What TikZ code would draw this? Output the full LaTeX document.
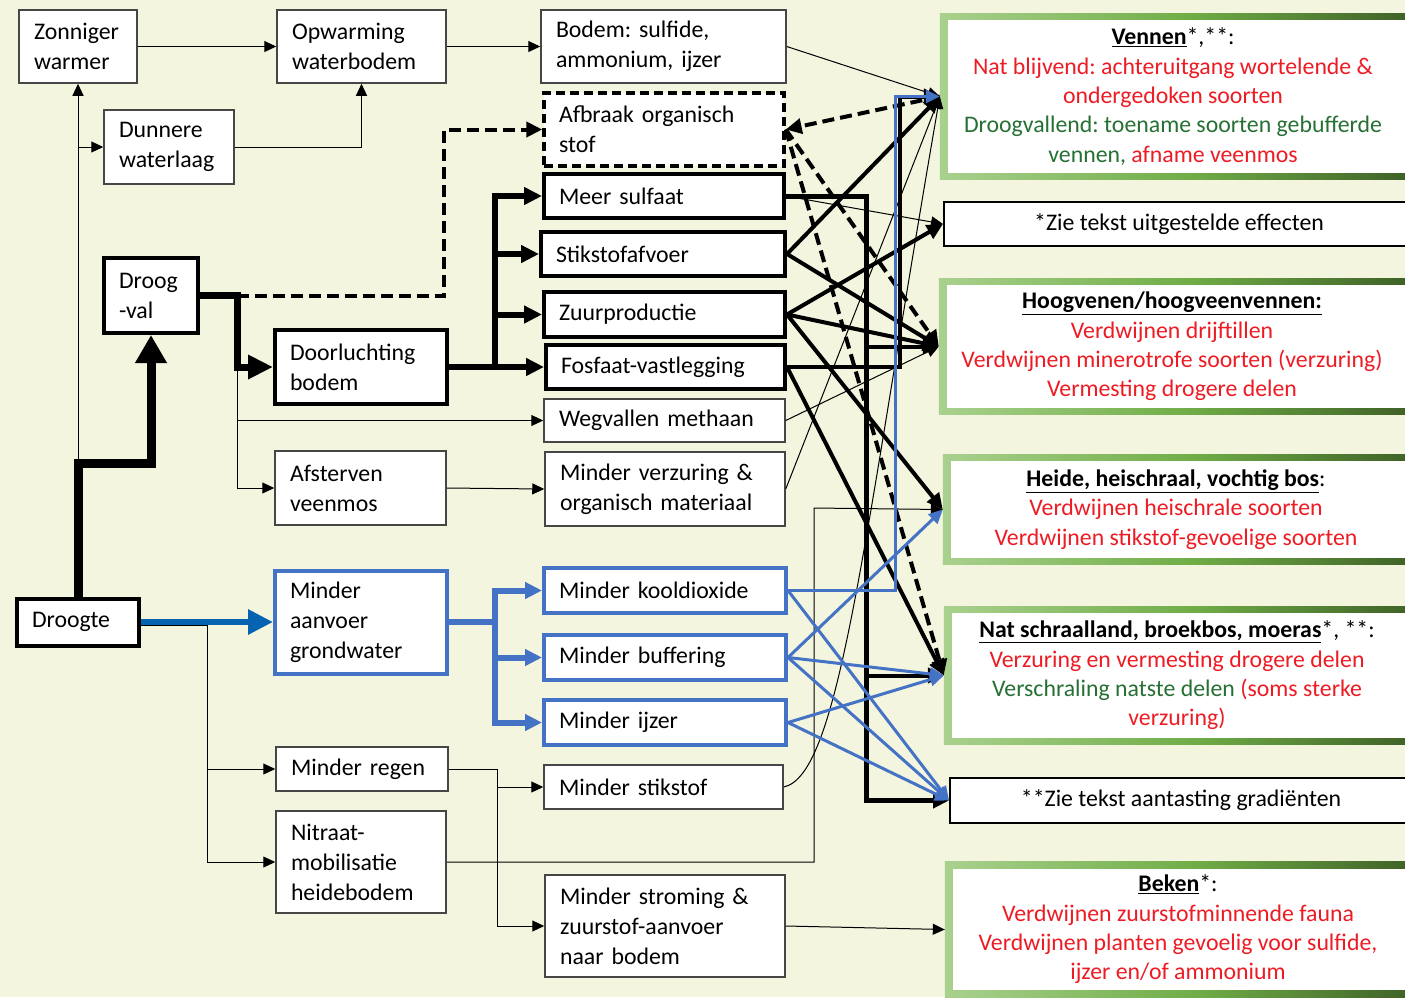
\documentclass[tikz,border=0pt]{standalone}
\usepackage{fontspec}
\setmainfont{Carlito}
\usetikzlibrary{arrows.meta,backgrounds}
\definecolor{bgcream}{RGB}{243,245,223}
\definecolor{boxgray}{RGB}{70,70,70}
\definecolor{offblue}{RGB}{68,114,196}
\definecolor{arrblue}{RGB}{5,99,177}
\definecolor{txtred}{RGB}{237,28,36}
\definecolor{txtgreen}{RGB}{38,112,52}
\definecolor{grlight}{RGB}{169,209,142}
\definecolor{grmid}{RGB}{112,173,71}
\definecolor{grdark}{RGB}{56,87,35}
\frenchspacing

\begin{document}
\begin{tikzpicture}[x = 1pt, y = -1pt,
	procbox/.style 2 args = {draw = boxgray, line width = 1.5pt, fill = white, inner sep = 0pt, align = left,
		minimum width = #1pt, minimum height = #2pt, text width = #1pt-30pt},
	boldbox/.style = {draw = black, line width = 4pt},
	bluebox/.style = {draw = offblue, line width = 4pt},
	dashbox/.style = {draw = black, line width = 3.5pt, dash pattern = on 9pt off 5pt},
	habitat/.style = {inner sep = 0pt, align = center, minimum width = 450pt, font = \fontsize{23.8}{29.3}\selectfont},
	notebox/.style = {draw = black, line width = 2pt, fill = white, minimum width = 470pt, minimum height = 44pt},
	thinarr/.style = {draw = black, line width = 1pt, -{Triangle[length = 12pt, width = 11pt]}},
	thickarr/.style = {draw = black, line width = 4pt, -{Triangle[length = 16pt, width = 15pt]}},
	dasharr/.style = {thickarr, dash pattern = on 12pt off 6pt},
	medarr/.style = {draw = black, line width = 6pt, -{Triangle[length = 18pt, width = 17pt]}},
	bigarr/.style = {draw = black, line width = 7pt, -{Triangle[length = 25pt, width = 23pt]}},
	hugearr/.style = {draw = black, line width = 9pt, -{Triangle[length = 28pt, width = 30pt]}},
	bluearr/.style = {draw = offblue, line width = 3pt, -{Triangle[length = 14pt, width = 13pt]}},
	bluemed/.style = {draw = offblue, line width = 6pt, -{Triangle[length = 17pt, width = 16pt]}},
	bluebig/.style = {draw = arrblue, line width = 6pt, -{Triangle[length = 25pt, width = 24pt]}}]
	\tikzstyle{every node} = [font = \fontsize{23.8}{30}\selectfont]
	\useasboundingbox (0,0) rectangle (1405,997);
	\begin{scope}[on background layer]
		\fill[bgcream] (0,0) rectangle (1405,997);
	\end{scope}

	% oorzaken en processen
	\node[procbox = {118}{73}] (zon) at (78,46.5) {Zonniger\\warmer};
	\node[procbox = {169}{73}] (opw) at (361.5,46.5) {Opwarming\\waterbodem};
	\node[procbox = {245}{73}] (bodem) at (663.5,46.5) {Bodem: sulfide,\\ammonium, ijzer};
	\node[procbox = {130}{74}] (dun) at (169,147) {Dunnere\\waterlaag};
	\node[procbox = {240}{73}, dashbox] (afbraak) at (664,129.5) {Afbraak organisch\\stof};
	\node[procbox = {240}{44}, boldbox] (sulfaat) at (664,196) {Meer sulfaat};
	\node[procbox = {244}{44}, boldbox] (stikaf) at (663,254) {Stikstofafvoer};
	\node[procbox = {241}{45}, boldbox] (zuur) at (664.5,314.5) {Zuurproductie};
	\node[procbox = {239}{44}, boldbox] (fosfaat) at (665.5,367) {Fosfaat-vastlegging};
	\node[procbox = {241}{43}] (methaan) at (664.5,420.5) {Wegvallen methaan};
	\node[procbox = {240}{74}] (verz) at (665,489) {Minder verzuring \&\\organisch materiaal};
	\node[procbox = {94}{75}, boldbox] (droogval) at (151,295.5) {Droog\\-val};
	\node[procbox = {172}{74}, boldbox] (doorl) at (361,367) {Doorluchting\\bodem};
	\node[procbox = {171}{74}] (afst) at (360.5,488) {Afsterven\\veenmos};
	\node[procbox = {122}{47}, boldbox] (droogte) at (78,622) {Droogte};
	\node[procbox = {172}{103}, bluebox] (aanvoer) at (361,622) {Minder\\aanvoer\\grondwater};
	\node[procbox = {242}{45}, bluebox] (kool) at (665,590.5) {Minder kooldioxide};
	\node[procbox = {242}{45}, bluebox] (buff) at (665,657.5) {Minder buffering};
	\node[procbox = {242}{45}, bluebox] (ijzer) at (665,722.5) {Minder ijzer};
	\node[procbox = {172}{44}] (regen) at (362,769) {Minder regen};
	\node[procbox = {239}{44}] (stikst) at (663.5,787) {Minder stikstof};
	\node[procbox = {170}{102}] (nitraat) at (361,862) {Nitraat-\\mobilisatie\\heidebodem};
	\node[procbox = {240}{102}] (stroming) at (665,926) {Minder stroming \&\\zuurstof-aanvoer\\naar bodem};

	% effecten
	\node[habitat, minimum height = 152pt] (ven) at (1173,96.5) {\underline{\textbf{Vennen}}*,**:\\
		\textcolor{txtred}{Nat blijvend: achteruitgang wortelende \&}\\
		\textcolor{txtred}{ondergedoken soorten}\\
		\textcolor{txtgreen}{Droogvallend: toename soorten gebufferde}\\
		\textcolor{txtgreen}{vennen,} \textcolor{txtred}{afname veenmos}};
	\node[notebox] (uitg) at (1179,224) {*Zie tekst uitgestelde effecten};
	\node[habitat, minimum height = 122pt] (hoog) at (1172,346.5) {\underline{\textbf{Hoogvenen/hoogveenvennen:}}\\
		\textcolor{txtred}{Verdwijnen drijftillen}\\
		\textcolor{txtred}{Verdwijnen minerotrofe soorten (verzuring)}\\
		\textcolor{txtred}{Vermesting drogere delen}};
	\node[habitat, minimum height = 96pt] (heide) at (1176,509.5) {\underline{\textbf{Heide, heischraal, vochtig bos}}:\\
		\textcolor{txtred}{Verdwijnen heischrale soorten}\\
		\textcolor{txtred}{Verdwijnen stikstof-gevoelige soorten}};
	\node[habitat, minimum height = 124pt] (nat) at (1177,675.5) {\underline{\textbf{Nat schraalland, broekbos, moeras}}*, **:\\
		\textcolor{txtred}{Verzuring en vermesting drogere delen}\\
		\textcolor{txtgreen}{Verschraling natste delen} \textcolor{txtred}{(soms sterke}\\
		\textcolor{txtred}{verzuring)}};
	\node[notebox, minimum width = 462pt, minimum height = 45pt] (grad) at (1181,800.5) {**Zie tekst aantasting gradiënten};
	\node[habitat, minimum height = 121pt] (beken) at (1178,929.5) {\underline{\textbf{Beken}}*:\\
		\textcolor{txtred}{Verdwijnen zuurstofminnende fauna}\\
		\textcolor{txtred}{Verdwijnen planten gevoelig voor sulfide,}\\
		\textcolor{txtred}{ijzer en/of ammonium}};

	\begin{scope}[on background layer]
		\foreach \h in {ven,hoog,heide,nat,beken}
		{
			\shade[left color = grlight, right color = grdark, middle color = grmid] ([shift = {(-8pt,7pt)}]\h.north west) rectangle ([shift = {(40pt,-7pt)}]\h.south east);
			\fill[white] (\h.north west) rectangle ([xshift = 40pt]\h.south east);
		}
	\end{scope}
	\foreach \h in {ven,hoog,heide,nat,beken}
	{
		\coordinate (in\h) at ([xshift = -8pt]\h.west);
	}

	% links boven
	\coordinate (j1) at (78,463);
	\draw[thinarr] (j1) -- (zon.south);
	\draw[thinarr] (zon.south |- dun.west) -- (dun.west);
	\draw[hugearr] (droogte.north) -- (j1) -| (droogval.south);
	\draw[thinarr] (zon.east) -- (opw.west);
	\draw[thinarr] (dun.east) -| (opw.south);
	\draw[thinarr] (opw.east) -- (bodem.west);

	% droogval
	\coordinate (j2) at (237,295.5);
	\coordinate (j3) at (444,295.5);
	\draw[thinarr] (j2 |- doorl.west) |- (methaan.west);
	\draw[thinarr] (j2 |- doorl.west) |- (afst.west);
	\draw[dasharr] (j2) -- (j3) |- (afbraak.west);
	\draw[bigarr] (droogval.east) -- (j2) |- (doorl.west);
	\draw[thinarr] (afst.east) -- (verz.west);
	\coordinate (j4) at (495,367);
	\foreach \t in {sulfaat,stikaf,zuur}
		\draw[medarr] (j4) |- (\t.west);
	\draw[medarr] (doorl.east) -- (fosfaat.west);

	% droogte onder
	\coordinate (j5) at (207,625);
	\draw[thinarr] ([yshift = -3pt]droogte.east) -- (j5) |- (nitraat.west);
	\draw[thinarr] (j5) |- (regen.west);
	\draw[bluebig] (droogte.east) -- (aanvoer.west);
	\coordinate (j6) at (495,622);
	\draw[bluemed] (aanvoer.east) -- (j6) |- (kool.west);
	\foreach \t in {buff,ijzer}
		\draw[bluemed] (j6) |- (\t.west);
	\coordinate (j7) at (497,769);
	\draw[thinarr] (regen.east) -- (j7) |- (stikst.west);
	\draw[thinarr] (j7) |- (stroming.west);
	\coordinate (j8) at (814,508);
	\draw[thinarr] (nitraat.east) -| (j8) -- (inheide);
	\draw[thinarr] (stroming.east) -- (inbeken);

	% naar de effecten
	\coordinate (j9) at (866,196);
	\coordinate (j10) at (900,367);
	\coordinate (j11) at (895,590.5);
	\draw[thinarr] (bodem.east) -- (inven);
	\draw[thinarr] (sulfaat.east) -- (uitg.west);
	\draw[thinarr] (methaan.east) -- (inhoog);
	\draw[thinarr] (verz.east) -- (inven);
	\draw[thinarr] (stikst.east) .. controls (840,775) and (863,540) .. (inven);
	\draw[dasharr] (inven) -- (afbraak.east);
	\foreach \t in {inhoog,innat}
		\draw[dasharr] (afbraak.east) -- (\t);
	\draw[thickarr, line width = 5pt] (sulfaat.east) -- (j9) |- (grad.west);
	\foreach \t in {inhoog,innat}
		\draw[thickarr] (j9 |- \t) -- (\t);
	\foreach \t in {inven,inhoog}
		\draw[thickarr] (stikaf.east) -- (\t);
	\foreach \t in {uitg.west,inhoog,inheide}
		\draw[thickarr] (zuur.east) -- (\t);
	\draw[thickarr] (fosfaat.east) -- (innat);
	\draw[thickarr] (fosfaat.east) -- (j10) |- (inven);
	\draw[bluearr] (kool.east) -- (j11) |- (inven);
	\draw[bluearr] (kool.east) -- (grad.west);
	\foreach \t in {inheide,innat,grad.west}
		\draw[bluearr] (buff.east) -- (\t);
	\foreach \t in {innat,grad.west}
		\draw[bluearr] (ijzer.east) -- (\t);
\end{tikzpicture}
\end{document}
